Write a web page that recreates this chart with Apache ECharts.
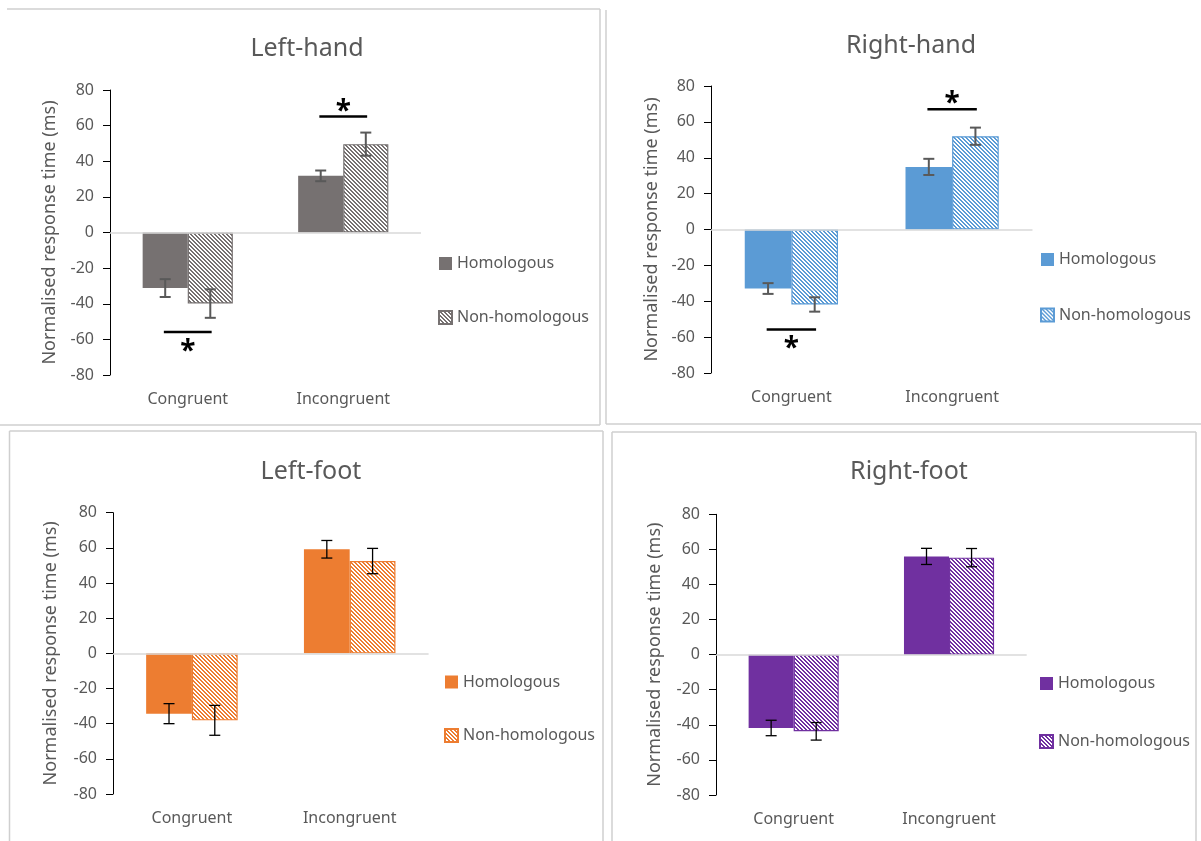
<!DOCTYPE html>
<html>
<head>
<meta charset="utf-8">
<script src="https://cdn.jsdelivr.net/npm/echarts@6/dist/echarts.min.js"></script>
<style>
html,body{margin:0;padding:0;background:#fff;}
#chart{width:1201px;height:841px;}
</style>
</head>
<body>
<div id="chart"></div>
<script>
// ---------- data ----------
const categories = ['Congruent', 'Incongruent'];
const panelTitles = ['Left-hand', 'Right-hand', 'Left-foot', 'Right-foot'];
const seriesNames = ['Homologous', 'Non-homologous'];
const yAxisName = 'Normalised response time (ms)';
const yMin = -80, yMax = 80, yStep = 20;

const leftHandHom = [-31.2, 31.8];
const leftHandHomErr = [5.0, 3.0];
const leftHandNon = [-39.9, 49.6];
const leftHandNonErr = [8.0, 6.5];
const leftHandSig = [-55.8, 65.1];

const rightHandHom = [-32.9, 34.9];
const rightHandHomErr = [3.0, 4.5];
const rightHandNon = [-41.8, 52.0];
const rightHandNonErr = [4.0, 4.8];
const rightHandSig = [-55.7, 67.1];

const leftFootHom = [-34.3, 59.2];
const leftFootHomErr = [5.7, 5.0];
const leftFootNon = [-38.1, 52.5];
const leftFootNonErr = [8.5, 7.2];

const rightFootHom = [-41.8, 56.0];
const rightFootHomErr = [4.4, 4.6];
const rightFootNon = [-43.7, 55.3];
const rightFootNonErr = [5.0, 5.2];

// ---------- layout / style ----------
const GAP = 0.42;
const TXT = '#595959';
const FONT = 'Noto Sans';
const panels = [
  {color:'#767171', hom:leftHandHom, homErr:leftHandHomErr, non:leftHandNon, nonErr:leftHandNonErr, sig:leftHandSig,
   grid:{left:110, top:90, width:311, height:285}, titleX:302, titleY:31, legend:[438,255.5], legendGap:38, nameGap:51,
   errColor:'#595959', errWidth:2},
  {color:'#5B9BD5', hom:rightHandHom, homErr:rightHandHomErr, non:rightHandNon, nonErr:rightHandNonErr, sig:rightHandSig,
   grid:{left:711, top:86, width:321.5, height:287}, titleX:906, titleY:28, legend:[1040,251.5], legendGap:39.5, nameGap:50,
   errColor:'#595959', errWidth:2},
  {color:'#ED7D31', hom:leftFootHom, homErr:leftFootHomErr, non:leftFootNon, nonErr:leftFootNonErr, sig:null,
   grid:{left:113, top:512.7, width:315.6, height:281.3}, titleX:306, titleY:454, legend:[444,674], legendGap:37.5, nameGap:53,
   errColor:'#000', errWidth:1.3},
  {color:'#7030A0', hom:rightFootHom, homErr:rightFootHomErr, non:rightFootNon, nonErr:rightFootNonErr, sig:null,
   grid:{left:716, top:514.3, width:310.7, height:280.7}, titleX:904, titleY:454, legend:[1039,675.5], legendGap:42, nameGap:52,
   errColor:'#000', errWidth:1.3}
];

function hatch(color){
  const c = document.createElement('canvas');
  c.width = 8; c.height = 8;
  const ctx = c.getContext('2d');
  ctx.fillStyle = '#fff'; ctx.fillRect(0,0,8,8);
  ctx.fillStyle = color;
  for (let y=0;y<8;y++) for (let x=0;x<8;x++) {
    if ((((x - y) % 4) + 4) % 4 < 2) ctx.fillRect(x,y,1,1);
  }
  return c;
}

function errRender(side, color, width){
  return function(params, api){
    const cat = api.value(0), lo = api.value(1), hi = api.value(2);
    const pLo = api.coord([cat, lo]);
    const pHi = api.coord([cat, hi]);
    const bw = api.size([1,0])[0] * (1 - GAP) / 2;
    const x = pLo[0] + side * bw / 2;
    const cap = 5.5;
    const st = {stroke: color, lineWidth: width};
    return {type:'group', children:[
      {type:'line', shape:{x1:x, y1:pLo[1], x2:x, y2:pHi[1]}, style:st},
      {type:'line', shape:{x1:x-cap, y1:pLo[1], x2:x+cap, y2:pLo[1]}, style:st},
      {type:'line', shape:{x1:x-cap, y1:pHi[1], x2:x+cap, y2:pHi[1]}, style:st}
    ]};
  };
}

function sigRender(params, api){
  const cat = api.value(0), v = api.value(1);
  const p = api.coord([cat, v]);
  const half = api.size([1,0])[0] * (1 - GAP) / 2 * 0.53;
  const starY = v > 0 ? p[1] - 5 : p[1] + 20;
  return {type:'group', children:[
    {type:'line', shape:{x1:p[0]-half, y1:p[1], x2:p[0]+half, y2:p[1]}, style:{stroke:'#000', lineWidth:2.5}},
    {type:'text', style:{text:'*', x:p[0], y:starY, fill:'#000', font:'bold 28px "Noto Sans"', textAlign:'center', textVerticalAlign:'middle'}}
  ]};
}

const option = {
  animation:false,
  backgroundColor:'#fff',
  textStyle:{fontFamily:FONT},
  title:[], grid:[], xAxis:[], yAxis:[], legend:[], series:[],
  graphic:[]
};

panels.forEach((p, i) => {
  option.title.push({text: panelTitles[i], left:p.titleX, top:p.titleY, textAlign:'center',
    textStyle:{color:TXT, fontSize:25, fontWeight:'normal', fontFamily:FONT}});
  option.grid.push(Object.assign({containLabel:false}, p.grid));
  option.xAxis.push({type:'category', gridIndex:i, data:categories,
    axisLine:{show:false, onZero:false}, axisTick:{show:false},
    axisLabel:{color:TXT, fontSize:16, fontFamily:FONT, margin:16}, splitLine:{show:false}});
  option.yAxis.push({type:'value', gridIndex:i, min:yMin, max:yMax, interval:yStep,
    axisLine:{show:true, lineStyle:{color:'#000', width:1}},
    axisTick:{show:true, length:7, lineStyle:{color:'#000', width:1}},
    axisLabel:{color:TXT, fontSize:16, fontFamily:FONT, margin:16},
    splitLine:{show:false},
    name:yAxisName, nameLocation:'middle', nameGap:p.nameGap,
    nameTextStyle:{color:TXT, fontSize:18, fontFamily:FONT}});
  const nHom = 'p'+i+'|'+seriesNames[0];
  const nNon = 'p'+i+'|'+seriesNames[1];
  option.legend.push({orient:'vertical', left:p.legend[0], top:p.legend[1], padding:0,
    itemWidth:13, itemHeight:13, itemGap:p.legendGap, icon:'rect',
    data:[nHom, nNon], formatter: n => n.split('|')[1], selectedMode:false,
    textStyle:{color:TXT, fontSize:16, fontFamily:FONT}});
  option.series.push({type:'bar', name:nHom, xAxisIndex:i, yAxisIndex:i, data:p.hom,
    barGap:'0%', barCategoryGap:(GAP*100)+'%', itemStyle:{color:p.color}, z:2,
    markLine:{silent:true, symbol:'none', label:{show:false}, data:[{yAxis:0}],
      lineStyle:{color:'#d9d9d9', width:1.5, type:'solid'}}});
  option.series.push({type:'bar', name:nNon, xAxisIndex:i, yAxisIndex:i, data:p.non,
    barGap:'0%', barCategoryGap:(GAP*100)+'%',
    itemStyle:{color:{image:hatch(p.color), repeat:'repeat'}, borderColor:p.color, borderWidth:1.2}, z:2});
  option.series.push({type:'custom', xAxisIndex:i, yAxisIndex:i, z:5, silent:true,
    renderItem: errRender(-1, p.errColor, p.errWidth),
    encode:{x:0, y:[1,2]},
    data: p.hom.map((v,k) => [k, v - p.homErr[k], v + p.homErr[k]])});
  option.series.push({type:'custom', xAxisIndex:i, yAxisIndex:i, z:5, silent:true,
    renderItem: errRender(1, p.errColor, p.errWidth),
    encode:{x:0, y:[1,2]},
    data: p.non.map((v,k) => [k, v - p.nonErr[k], v + p.nonErr[k]])});
  if (p.sig) {
    option.series.push({type:'custom', xAxisIndex:i, yAxisIndex:i, z:5, silent:true,
      renderItem: sigRender, encode:{x:0, y:1},
      data: p.sig.map((v,k) => [k, v])});
  }
});

// panel frames
const frameStyle = {stroke:'#cfcfcf', lineWidth:1.5};
[
  [7,9,600,9],[600,9,600,425],[0,425,600,425],
  [606,10,606,424],[606,424,1201,424],
  [9.5,431,603,431],[603,431,603,841],[9.5,431,9.5,841],
  [612,432,1196,432],[612,432,612,841],[1196,432,1196,841]
].forEach(l => option.graphic.push({type:'line', silent:true, z:-1,
  shape:{x1:l[0], y1:l[1], x2:l[2], y2:l[3]}, style:frameStyle}));

const chart = echarts.init(document.getElementById('chart'), null, {renderer:'canvas'});
chart.setOption(option);
</script>
</body>
</html>
